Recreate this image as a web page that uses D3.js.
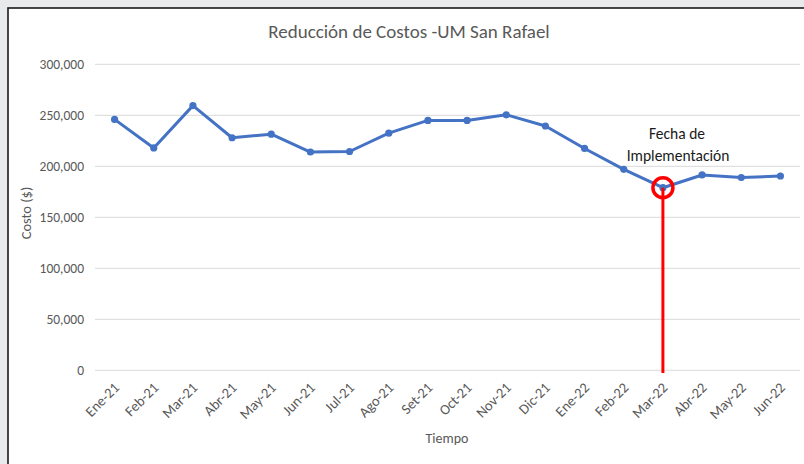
<!DOCTYPE html>
<html>
<head>
<meta charset="utf-8">
<script src="https://cdn.jsdelivr.net/npm/d3@7"></script>
<style>
  html, body { margin: 0; padding: 0; background: #e9eaec; }
  svg { display: block; }
  text { font-family: Carlito, Lato, "Open Sans", sans-serif; }
</style>
</head>
<body>
<svg id="chart" width="804" height="464"></svg>
<script>
const months = ["Ene-21","Feb-21","Mar-21","Abr-21","May-21","Jun-21","Jul-21","Ago-21","Set-21","Oct-21","Nov-21","Dic-21","Ene-22","Feb-22","Mar-22","Abr-22","May-22","Jun-22"];
const costs = [246000,218000,259500,228000,231500,214000,214500,232500,245000,245000,250500,239500,217500,197000,179000,191500,189000,190500];
const yTicks = [0,50000,100000,150000,200000,250000,300000];
const title = "Reducción de Costos -UM San Rafael";
const yTitle = "Costo ($)";
const xTitle = "Tiempo";
const annotationLines = ["Fecha de", "Implementación"];
const implementationMonth = "Mar-22";

const svg = d3.select("#chart");
const W = 804, H = 464;

// chart area (white box with dark border)
svg.append("rect").attr("x", 8).attr("y", 8).attr("width", W).attr("height", H)
  .attr("fill", "#ffffff").attr("stroke", "#1a1a1a").attr("stroke-width", 1.6);

const x = d3.scaleBand().domain(months).range([95, 800]);
const y = d3.scaleLinear().domain([0, 300000]).range([370.3, 64.3]);

// gridlines
svg.append("g").selectAll("line").data(yTicks).join("line")
  .attr("x1", 95).attr("x2", 800)
  .attr("y1", d => y(d)).attr("y2", d => y(d))
  .attr("stroke", "#d9d9d9").attr("stroke-width", 1);

// y axis labels
const yAxis = d3.axisLeft(y).tickValues(yTicks).tickFormat(d3.format(",")).tickSize(0).tickPadding(0);
const gy = svg.append("g").attr("transform", "translate(84,0)").call(yAxis);
gy.select(".domain").remove();
gy.selectAll("text").attr("fill", "#595959").attr("font-size", null).style("font-size", "13.5px")
  .style("font-family", "Carlito, Lato, sans-serif");
gy.attr("font-size", null);

// x axis labels
const xAxis = d3.axisBottom(x).tickSize(0).tickPadding(0);
const gx = svg.append("g").attr("transform", "translate(0,370)").call(xAxis);
gx.attr("font-size", null);
gx.select(".domain").remove();
gx.selectAll("text")
  .attr("fill", "#595959").style("font-size", "14.5px")
  .style("font-family", "Carlito, Lato, sans-serif")
  .attr("text-anchor", "end")
  .attr("dy", "0.35em")
  .attr("transform", "translate(2,15) rotate(-45)");

// line
const cx = d => x(d) + x.bandwidth() / 2;
const data = months.map((m, i) => ({ m, v: costs[i] }));
svg.append("path").datum(data)
  .attr("fill", "none").attr("stroke", "#4472c4").attr("stroke-width", 3)
  .attr("stroke-linejoin", "round")
  .attr("d", d3.line().x(d => cx(d.m)).y(d => y(d.v)));
svg.append("g").selectAll("circle").data(data).join("circle")
  .attr("cx", d => cx(d.m)).attr("cy", d => y(d.v)).attr("r", 3.6)
  .attr("fill", "#4472c4");

// implementation marker
const impV = costs[months.indexOf(implementationMonth)];
svg.append("line")
  .attr("x1", cx(implementationMonth)).attr("x2", cx(implementationMonth))
  .attr("y1", y(impV)).attr("y2", 373)
  .attr("stroke", "#ff0000").attr("stroke-width", 3);
svg.append("circle")
  .attr("cx", cx(implementationMonth)).attr("cy", y(impV)).attr("r", 10)
  .attr("fill", "none").attr("stroke", "#ff0000").attr("stroke-width", 3.5);

// annotation
svg.append("text").attr("x", 677).attr("y", 139).attr("text-anchor", "middle")
  .attr("fill", "#1a1a1a").style("font-size", "15.5px").text(annotationLines[0]);
svg.append("text").attr("x", 678).attr("y", 161).attr("text-anchor", "middle")
  .attr("fill", "#1a1a1a").style("font-size", "15.5px").text(annotationLines[1]);

// title
svg.append("text").attr("x", 409).attr("y", 38).attr("text-anchor", "middle")
  .attr("fill", "#595959").style("font-size", "19px").text(title);

// axis titles
svg.append("text").attr("transform", "translate(31,213) rotate(-90)")
  .attr("text-anchor", "middle").attr("fill", "#595959").style("font-size", "14.5px").text(yTitle);
svg.append("text").attr("x", 447).attr("y", 443)
  .attr("text-anchor", "middle").attr("fill", "#595959").style("font-size", "14px").text(xTitle);
</script>
</body>
</html>
